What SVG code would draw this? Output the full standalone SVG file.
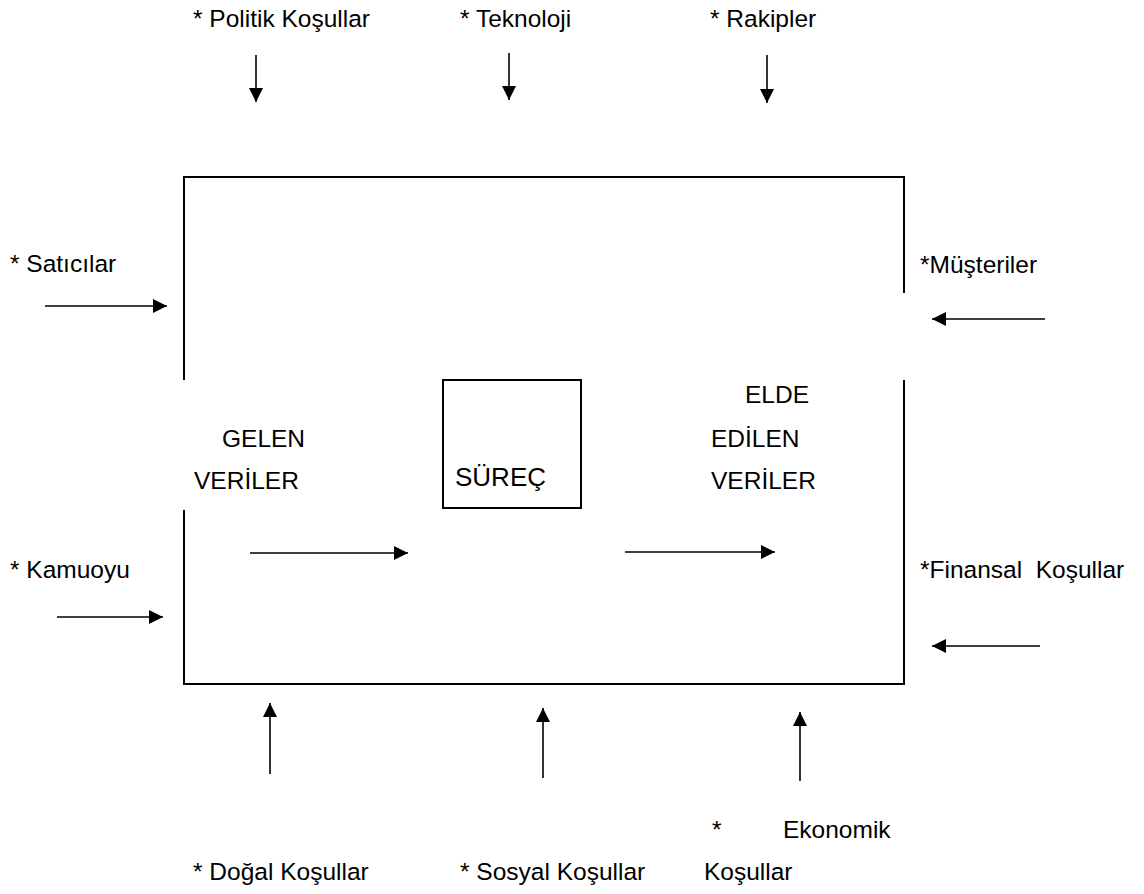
<svg xmlns="http://www.w3.org/2000/svg" width="1144" height="894" viewBox="0 0 1144 894">
<style>
text{font-family:"Liberation Sans",Arial,sans-serif;font-size:24.5px;fill:#000;white-space:pre}
.frame{fill:none;stroke:#000;stroke-width:2}
.arr{fill:none;stroke:#000;stroke-width:1.6;marker-end:url(#ah)}
.big{font-size:26px}
</style>
<defs>
<marker id="ah" markerUnits="userSpaceOnUse" markerWidth="14" markerHeight="14" viewBox="0 0 14 14" refX="14" refY="7" orient="auto">
<path d="M0,0 L14,7 L0,14 z" fill="#000"/>
</marker>
</defs>
<rect width="1144" height="894" fill="#fff"/>
<g id="system">
<path class="frame" d="M184,380 V177 H904 V293 M904,380 V684 H184 V510"/>
</g>
<g id="surec">
<rect class="frame" x="443" y="380" width="138" height="128"/>
<text class="big" x="455" y="486">SÜREÇ</text>
</g>
<g id="gelen"><text x="222" y="447">GELEN</text><text x="194" y="489">VERİLER</text></g>
<g id="elde"><text x="745" y="403">ELDE</text><text x="711" y="447">EDİLEN</text><text x="711" y="489">VERİLER</text></g>
<g id="politik"><text x="193" y="27">* Politik Koşullar</text></g>
<g id="teknoloji"><text x="460" y="27">* Teknoloji</text></g>
<g id="rakipler"><text x="710" y="27">* Rakipler</text></g>
<g id="saticilar"><text x="10" y="272">* Satıcılar</text></g>
<g id="kamuoyu"><text x="10" y="578">* Kamuoyu</text></g>
<g id="musteriler"><text x="920" y="273">*Müşteriler</text></g>
<g id="finansal"><text x="920" y="578">*Finansal  Koşullar</text></g>
<g id="dogal"><text x="193" y="880">* Doğal Koşullar</text></g>
<g id="sosyal"><text x="460" y="880">* Sosyal Koşullar</text></g>
<g id="ekonomik"><text><tspan x="712" y="838">*</tspan><tspan x="783" y="838">Ekonomik</tspan></text><text x="704" y="880">Koşullar</text></g>
<g id="connectors">
<line class="arr" x1="256" y1="55" x2="256" y2="102"/>
<line class="arr" x1="509" y1="53" x2="509" y2="100"/>
<line class="arr" x1="767" y1="55" x2="767" y2="103"/>
<line class="arr" x1="45" y1="306" x2="167" y2="306"/>
<line class="arr" x1="57" y1="617" x2="163" y2="617"/>
<line class="arr" x1="1045" y1="319" x2="932" y2="319"/>
<line class="arr" x1="1040" y1="646" x2="932" y2="646"/>
<line class="arr" x1="250" y1="553" x2="408" y2="553"/>
<line class="arr" x1="625" y1="552" x2="775" y2="552"/>
<line class="arr" x1="270" y1="774" x2="270" y2="703"/>
<line class="arr" x1="543" y1="778" x2="543" y2="708"/>
<line class="arr" x1="800" y1="781" x2="800" y2="712"/>
</g>
</svg>
